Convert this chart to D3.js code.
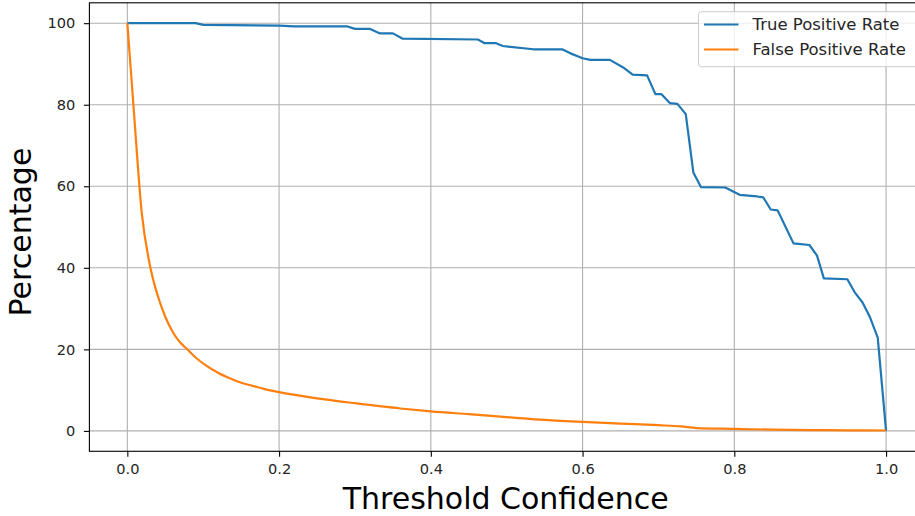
<!DOCTYPE html>
<html>
<head>
<meta charset="utf-8">
<script src="https://cdn.jsdelivr.net/npm/d3@7"></script>
<style>
body { margin: 0; background: #fff; }
svg { display: block; font-family: "DejaVu Sans", sans-serif; }
</style>
</head>
<body>
<svg id="chart" width="915" height="516"></svg>
<script>
// Threshold / percentage readings
var tprThreshold = [0, 0.09, 0.10, 0.20, 0.22, 0.29, 0.30, 0.32, 0.333, 0.35, 0.363, 0.462, 0.471, 0.486, 0.495, 0.535, 0.573, 0.584, 0.60, 0.61, 0.636, 0.653, 0.666, 0.685, 0.696, 0.704, 0.715, 0.725, 0.736, 0.746, 0.756, 0.788, 0.807, 0.83, 0.838, 0.848, 0.857, 0.878, 0.899, 0.909, 0.918, 0.949, 0.959, 0.969, 0.979, 0.989, 1.0];
var tprValues = [100, 100, 99.6, 99.4, 99.2, 99.2, 98.6, 98.6, 97.5, 97.5, 96.2, 96.0, 95.1, 95.1, 94.4, 93.6, 93.6, 92.6, 91.4, 91.0, 91.0, 89.2, 87.4, 87.2, 82.6, 82.6, 80.4, 80.2, 77.7, 63.4, 59.8, 59.7, 57.9, 57.5, 57.3, 54.3, 54.1, 46.0, 45.6, 43.0, 37.4, 37.2, 33.9, 31.5, 27.8, 22.9, 0];

var fprThreshold = [0, 0.008, 0.019, 0.030, 0.04, 0.05, 0.06, 0.07, 0.078, 0.09, 0.104, 0.12, 0.135, 0.15, 0.166, 0.18, 0.20, 0.25, 0.30, 0.36, 0.40, 0.45, 0.50, 0.55, 0.60, 0.65, 0.70, 0.73, 0.75, 0.80, 0.85, 0.90, 0.95, 1.0];
var fprValues = [100, 80, 53.5, 40.4, 33.2, 28.0, 24.2, 21.6, 20.2, 18.0, 16.0, 14.2, 12.9, 11.8, 11.0, 10.3, 9.5, 8.0, 6.8, 5.5, 4.8, 4.1, 3.4, 2.7, 2.2, 1.8, 1.4, 1.1, 0.7, 0.5, 0.3, 0.2, 0.15, 0.1];

var xTicks = [0, 0.2, 0.4, 0.6, 0.8, 1.0];
var yTicks = [0, 20, 40, 60, 80, 100];
var seriesNames = ["True Positive Rate", "False Positive Rate"];
var seriesColors = ["#1f77b4", "#ff7f0e"];

var svg = d3.select("#chart");
var plotL = 89.4, plotR = 924, plotT = 2.8, plotB = 451.3;

var x = d3.scaleLinear().domain([-0.05, 1.05]).range([plotL, plotR]);
var y = d3.scaleLinear().domain([-5, 105]).range([plotB, plotT]);

// grid
var grid = svg.append("g");
grid.selectAll("line.gx").data(xTicks).enter().append("line")
	.attr("x1", function(d) { return x(d); }).attr("x2", function(d) { return x(d); })
	.attr("y1", plotT).attr("y2", plotB)
	.attr("stroke", "#b0b0b0").attr("stroke-width", 1.1);
grid.selectAll("line.gy").data(yTicks).enter().append("line")
	.attr("x1", plotL).attr("x2", plotR)
	.attr("y1", function(d) { return y(d); }).attr("y2", function(d) { return y(d); })
	.attr("stroke", "#b0b0b0").attr("stroke-width", 1.1);

// lines
var tpr = tprThreshold.map(function(t, i) { return [t, tprValues[i]]; });
var fpr = fprThreshold.map(function(t, i) { return [t, fprValues[i]]; });
var line = d3.line().x(function(d) { return x(d[0]); }).y(function(d) { return y(d[1]); });

svg.append("path").datum(tpr).attr("d", line)
	.attr("fill", "none").attr("stroke", seriesColors[0]).attr("stroke-width", 2.2)
	.attr("stroke-linejoin", "round");
svg.append("path").datum(fpr).attr("d", d3.line().curve(d3.curveMonotoneX).x(function(d) { return x(d[0]); }).y(function(d) { return y(d[1]); }))
	.attr("fill", "none").attr("stroke", seriesColors[1]).attr("stroke-width", 2.2)
	.attr("stroke-linejoin", "round");

// spines
svg.append("rect").attr("x", plotL).attr("y", plotT)
	.attr("width", plotR - plotL).attr("height", plotB - plotT)
	.attr("fill", "none").attr("stroke", "#000").attr("stroke-width", 1.1);

// axes
var xAxis = svg.append("g").attr("transform", "translate(0," + plotB + ")")
	.call(d3.axisBottom(x).tickValues(xTicks).tickFormat(d3.format(".1f")).tickSize(5.5).tickPadding(7));
var yAxis = svg.append("g").attr("transform", "translate(" + plotL + ",0)")
	.call(d3.axisLeft(y).tickValues(yTicks).tickSize(5.5).tickPadding(8.5));
[xAxis, yAxis].forEach(function(a) {
	a.select(".domain").remove();
	a.selectAll("line").attr("stroke", "#000").attr("stroke-width", 1.1);
	a.selectAll("text").attr("fill", "#262626").style("font-size", "14.6px").style("font-family", "DejaVu Sans");
});

// axis titles
svg.append("text").attr("x", (plotL + plotR) / 2 - 1).attr("y", 509)
	.attr("text-anchor", "middle").style("font-size", "30px").attr("fill", "#000")
	.text("Threshold Confidence");
svg.append("text").attr("transform", "translate(31," + ((plotT + plotB) / 2 + 5) + ") rotate(-90)")
	.attr("text-anchor", "middle").style("font-size", "30px").attr("fill", "#000")
	.text("Percentage");

// legend
var lg = svg.append("g");
lg.append("rect").attr("x", 698.5).attr("y", 11.7).attr("width", 230).attr("height", 55)
	.attr("rx", 3).attr("fill", "#fff").attr("fill-opacity", 0.8)
	.attr("stroke", "#cccccc").attr("stroke-width", 1);
seriesNames.forEach(function(name, i) {
	var yy = 24.5 + i * 25;
	lg.append("line").attr("x1", 704).attr("x2", 738.5).attr("y1", yy).attr("y2", yy)
		.attr("stroke", seriesColors[i]).attr("stroke-width", 2.2);
	lg.append("text").attr("x", 752.5).attr("y", yy).attr("dy", "0.35em")
		.style("font-size", "16.5px").attr("fill", "#262626").text(name);
});
</script>
</body>
</html>
